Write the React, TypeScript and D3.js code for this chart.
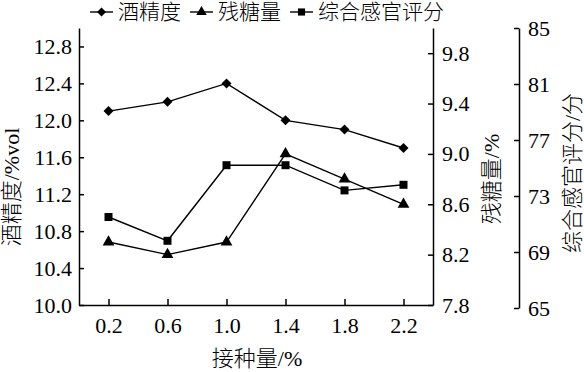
import React, { useEffect, useRef } from 'react';
import * as d3 from 'd3';

// inoculation amount (%)
const doses = [0.2, 0.6, 1.0, 1.4, 1.8, 2.2];
const alcohol = [12.1, 12.2, 12.4, 12.0, 11.9, 11.7];
const sugar = [8.3, 8.2, 8.3, 9.0, 8.8, 8.6];
const score = [71.5, 69.8, 75.2, 75.2, 73.4, 73.8];

const alcoholTicks = [10.0, 10.4, 10.8, 11.2, 11.6, 12.0, 12.4, 12.8];
const sugarTicks = [7.8, 8.2, 8.6, 9.0, 9.4, 9.8];
const scoreTicks = [65, 69, 73, 77, 81, 85];

const legendNames = ['酒精度', '残糖量', '综合感官评分'];

const SERIF = '"Liberation Serif", "Times New Roman", "Noto Sans CJK SC", serif';
const CJK = '"Liberation Serif", "Noto Sans CJK SC", serif';

const App: React.FC = () => {
  const ref = useRef<SVGSVGElement>(null);

  useEffect(() => {
    const svg = d3.select(ref.current);
    svg.selectAll('*').remove();

    const left = 79, right = 433, top = 28, bottom = 305;
    const scoreX = 519;

    const x = d3.scaleLinear().domain([0, 2.4]).range([left, right]);
    const yA = d3.scaleLinear().domain([10, 13]).range([bottom, top]);
    const yS = d3.scaleLinear().domain([7.8, 10.0]).range([bottom, top]);
    const yC = d3.scaleLinear().domain([65, 85]).range([308, 28]);

    const styleAxis = (g: any) => {
      g.selectAll('path').attr('stroke', '#000').attr('stroke-width', 1.5);
      g.selectAll('line').attr('stroke', '#000').attr('stroke-width', 1.5);
      g.selectAll('text')
        .attr('fill', '#000')
        .style('font-family', SERIF)
        .style('font-size', '22px');
    };

    svg.append('g')
      .attr('transform', `translate(${left},0)`)
      .call(d3.axisLeft(yA).tickValues(alcoholTicks).tickFormat(d3.format('.1f'))
        .tickSize(-5).tickSizeOuter(0).tickPadding(7))
      .call(styleAxis);

    svg.append('g')
      .attr('transform', `translate(${right},0)`)
      .call(d3.axisRight(yS).tickValues(sugarTicks).tickFormat(d3.format('.1f'))
        .tickSize(-5).tickSizeOuter(0).tickPadding(9))
      .call(styleAxis);

    svg.append('g')
      .attr('transform', `translate(${scoreX},0)`)
      .call(d3.axisRight(yC).tickValues(scoreTicks).tickFormat(d3.format('d'))
        .tickSize(-5).tickSizeOuter(0).tickPadding(9))
      .call(styleAxis);

    svg.append('g')
      .attr('transform', `translate(0,${bottom})`)
      .call(d3.axisBottom(x).tickValues(doses).tickFormat(d3.format('.1f'))
        .tickSize(-6).tickSizeOuter(0).tickPadding(12))
      .call(styleAxis);

    // axis titles
    const title = (tx: number, ty: number, rot: number, text: string) =>
      svg.append('text')
        .attr('transform', `translate(${tx},${ty}) rotate(${rot})`)
        .attr('text-anchor', 'middle')
        .attr('dominant-baseline', 'central')
        .style('font-family', CJK)
        .style('font-weight', 300)
        .style('font-size', '22px')
        .text(text);

    title(11, 187, -90, '酒精度/%vol');
    title(491, 179, -90, '残糖量/%');
    title(572, 173, -90, '综合感官评分/分');
    title(257, 358, 0, '接种量/%');

    const series = [
      { values: alcohol, y: yA, symbol: d3.symbolSquare, size: 50, rotate: 45 },
      { values: sugar, y: yS, symbol: d3.symbolTriangle, size: 60, rotate: 0 },
      { values: score, y: yC, symbol: d3.symbolSquare, size: 64, rotate: 0 }
    ];

    series.forEach(s => {
      const line = d3.line<number>()
        .x((_, i) => x(doses[i]))
        .y(d => s.y(d));
      svg.append('path')
        .attr('d', line(s.values))
        .attr('fill', 'none')
        .attr('stroke', '#000')
        .attr('stroke-width', 1.4);
      svg.selectAll(null)
        .data(s.values)
        .join('path')
        .attr('d', d3.symbol().type(s.symbol).size(s.size)())
        .attr('transform', (d, i) => `translate(${x(doses[i])},${s.y(d)}) rotate(${s.rotate})`)
        .attr('fill', '#000');
    });

    // legend
    const legendX = [90, 190, 290];
    series.forEach((s, i) => {
      const g = svg.append('g').attr('transform', `translate(${legendX[i]},12)`);
      g.append('line').attr('x1', 0).attr('x2', 23).attr('stroke', '#000').attr('stroke-width', 1.4);
      g.append('path')
        .attr('d', d3.symbol().type(s.symbol).size(s.size * 0.8)())
        .attr('transform', `translate(11.5,0) rotate(${s.rotate})`)
        .attr('fill', '#000');
      g.append('text')
        .attr('x', 28)
        .attr('y', 0)
        .attr('dominant-baseline', 'central')
        .style('font-family', CJK)
        .style('font-weight', 300)
        .style('font-size', '21px')
        .text(legendNames[i]);
    });
  }, []);

  return (
    <svg
      ref={ref}
      width={584}
      height={372}
      style={{ position: 'absolute', left: 0, top: 0, background: '#fff' }}
    />
  );
};

export default App;
